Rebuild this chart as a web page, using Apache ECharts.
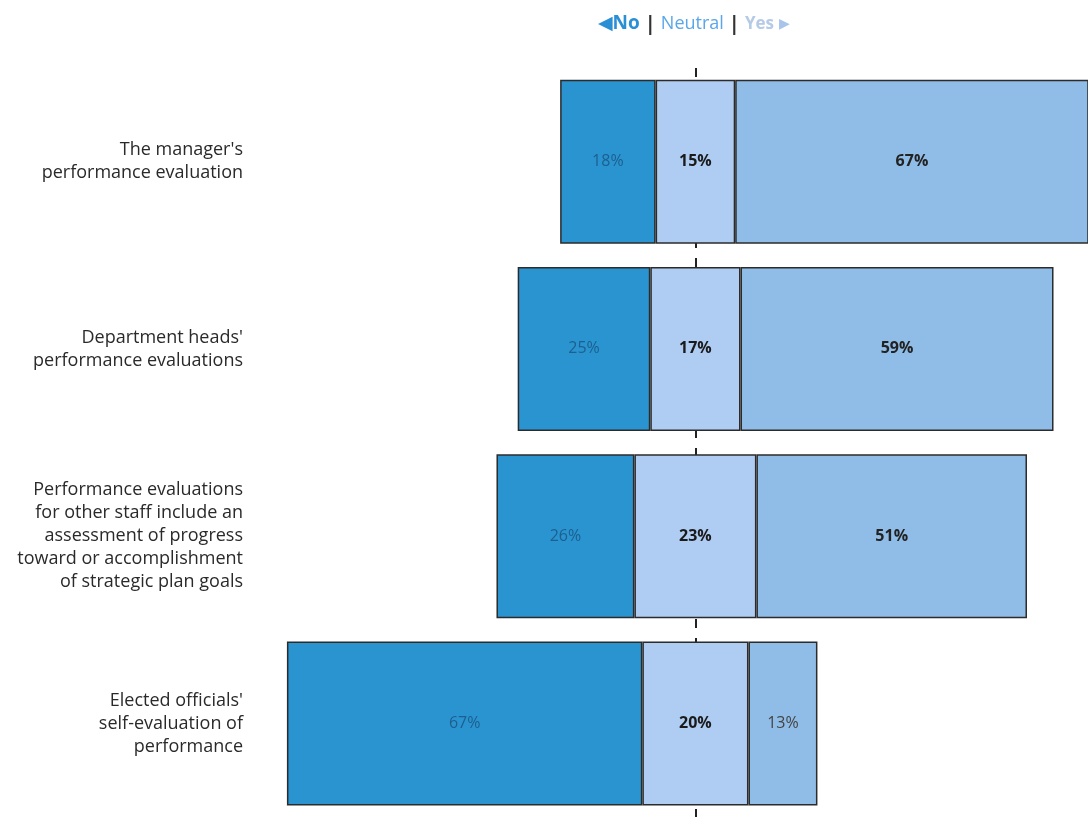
<!DOCTYPE html>
<html>
<head>
<meta charset="utf-8">
<script src="https://cdn.jsdelivr.net/npm/echarts@6/dist/echarts.min.js"></script>
<style>
  html, body { margin: 0; padding: 0; background: #fff; }
  #chart { width: 1088px; height: 827px; }
</style>
</head>
<body>
<div id="chart"></div>
<script>
// survey items (top to bottom)
var categories = [
    "The manager's\nperformance evaluation",
    "Department heads'\nperformance evaluations",
    "Performance evaluations\nfor other staff include an\nassessment of progress\ntoward or accomplishment\nof strategic plan goals",
    "Elected officials'\nself-evaluation of\nperformance"
];
var noVals = [18, 25, 26, 67];
var neutralVals = [15, 17, 23, 20];
var yesVals = [67, 59, 51, 13];

// neutral bar is centred on this axis value
var CENTER = 80;
var padVals = noVals.map(function (v, i) {
    return CENTER - v - neutralVals[i] / 2;
});

var barStyle = function (color) {
    return { color: color, borderColor: '#2b2b2b', borderWidth: 1.5 };
};

var myChart = echarts.init(document.getElementById('chart'));
myChart.setOption({
    animation: false,
    title: {
        left: 593,
        top: 9,
        text: '{al|◀}{no|No} {sep|\u007c} {neu|Neutral} {sep|\u007c} {yes|Yes} {ar|▶}',
        textStyle: {
            fontWeight: 'normal',
            rich: {
                al:  { color: '#2b8fd6', fontSize: 19, fontFamily: 'DejaVu Sans' },
                no:  { color: '#2b8fd6', fontSize: 19, fontWeight: 'bold', fontFamily: 'Open Sans' },
                sep: { color: '#333', fontSize: 20, fontWeight: 'bold', fontFamily: 'Open Sans' },
                neu: { color: '#5aa6e8', fontSize: 18, fontWeight: 'normal', fontFamily: 'Open Sans' },
                yes: { color: '#b4cae6', fontSize: 17, fontWeight: 'bold', fontFamily: 'Open Sans' },
                ar:  { color: '#a8c4ea', fontSize: 14, fontFamily: 'DejaVu Sans' }
            }
        }
    },
    grid: { left: 271, right: 0, top: 68, bottom: 10, containLabel: false },
    xAxis: {
        type: 'value',
        min: 0,
        max: 154,
        show: false
    },
    yAxis: {
        type: 'category',
        inverse: true,
        data: categories,
        axisLine: { show: false },
        axisTick: { show: false },
        axisLabel: {
            margin: 28,
            align: 'right',
            color: '#2a2a2a',
            fontSize: 18,
            lineHeight: 23,
            fontFamily: 'Open Sans'
        }
    },
    series: [{
        name: 'pad',
        type: 'bar',
        stack: 'all',
        barWidth: 164,
        z: 1,
        itemStyle: { color: 'transparent' },
        data: padVals,
        silent: true,
        markLine: {
            silent: true,
            symbol: 'none',
            z: 0,
            label: { show: false },
            lineStyle: { color: '#222', type: [9, 10], width: 2 },
            data: [{ xAxis: CENTER }]
        }
    }, {
        name: 'No',
        type: 'bar',
        stack: 'all',
        z: 3,
        itemStyle: barStyle('#2a94d0'),
        label: {
            show: true,
            formatter: '{c}%',
            color: '#1d5f8e',
            fontSize: 16,
            fontFamily: 'Open Sans'
        },
        data: noVals
    }, {
        name: 'Neutral',
        type: 'bar',
        stack: 'all',
        z: 3,
        itemStyle: barStyle('#afcdf2'),
        label: {
            show: true,
            formatter: '{c}%',
            color: '#1a1a1a',
            fontSize: 16,
            fontWeight: 'bold',
            fontFamily: 'Open Sans'
        },
        data: neutralVals
    }, {
        name: 'Yes',
        type: 'bar',
        stack: 'all',
        z: 3,
        itemStyle: barStyle('#90bde7'),
        label: {
            show: true,
            formatter: '{c}%',
            color: '#222',
            fontSize: 16,
            fontWeight: 'bold',
            fontFamily: 'Open Sans'
        },
        data: yesVals.map(function (v, i) {
            if (i === 3) {
                return { value: v, label: { fontWeight: 'normal', color: '#444' } };
            }
            return v;
        })
    }]
});
window.onresize = myChart.resize;
</script>
</body>
</html>
